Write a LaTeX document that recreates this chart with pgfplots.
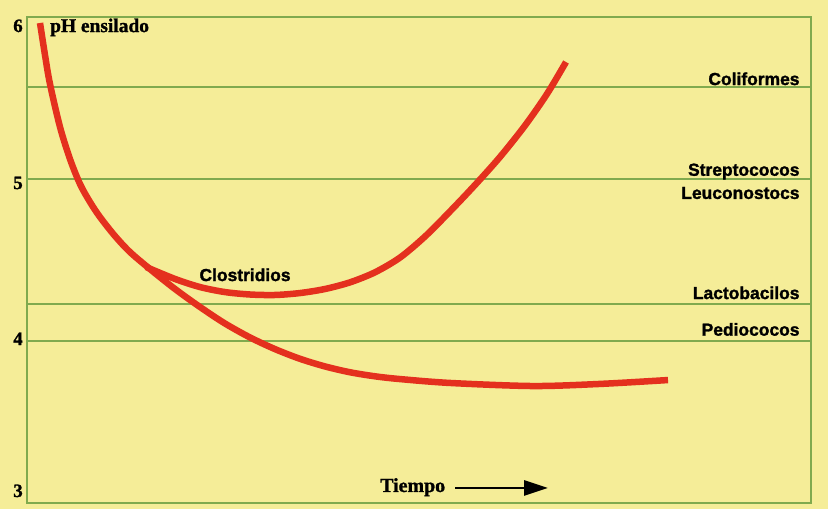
\documentclass[border=0pt]{standalone}
\usepackage{pgfplots}
\pgfplotsset{compat=1.18}
\usepackage{fontspec}
\setmainfont{Liberation Serif}[BoldFeatures={FakeBold=1.2}]
\newfontfamily\labfont{Liberation Sans}[BoldFeatures={FakeBold=1.5}]
\usetikzlibrary{arrows.meta}
\definecolor{bgy}{RGB}{245,237,152}
\definecolor{gline}{RGB}{128,170,78}
\definecolor{cred}{RGB}{228,48,30}
\begin{document}
\begin{tikzpicture}
\fill[bgy] (0,0) rectangle (828bp,509bp);
\begin{axis}[
  at={(27bp,6bp)}, anchor=south west,
  width=784bp, height=486bp, scale only axis,
  xmin=27, xmax=811, ymin=3, ymax=6,
  axis line style={gline, line width=2bp},
  ticks=none, clip=false,
  axis background/.style={fill=bgy},
]
% horizontal reference lines
\addplot[gline, line width=2bp] coordinates {(27,5.568) (811,5.568)};
\addplot[gline, line width=2bp] coordinates {(27,5.0) (811,5.0)};
\addplot[gline, line width=2bp] coordinates {(27,4.228) (811,4.228)};
\addplot[gline, line width=2bp] coordinates {(27,4.0) (811,4.0)};
% main pH curve
\addplot[cred, line width=6.5bp, smooth, tension=0.5, line cap=butt] coordinates {
(40,5.963) (45,5.765) (50,5.586) (60,5.321) (70,5.123) (80,4.969) (90,4.858)
(100,4.765) (115,4.648) (130,4.549) (150,4.444) (175,4.321) (200,4.210)
(225,4.108) (250,4.022) (275,3.950) (300,3.890) (325,3.843) (350,3.807) (375,3.782) (400,3.765)
(450,3.741) (533,3.722) (600,3.735) (668,3.759)};
% Clostridios curve
\addplot[cred, line width=6.5bp, smooth, tension=0.5, line cap=butt] coordinates {
(146,4.457) (175,4.383) (200,4.333) (225,4.302) (250,4.287) (275,4.284)
(300,4.296) (325,4.321) (350,4.362) (375,4.424) (400,4.515) (425,4.645)
(450,4.800) (475,4.963) (500,5.136) (525,5.330) (547,5.525) (566,5.722)};
% labels
\node[anchor=base east, font=\labfont\fontsize{17.5}{20}\selectfont\bfseries] at (axis cs:803,5.58) {Coliformes};
\node[anchor=base east, font=\labfont\fontsize{17.5}{20}\selectfont\bfseries] at (axis cs:803,5.02) {Streptococos};
\node[anchor=base east, font=\labfont\fontsize{17.5}{20}\selectfont\bfseries] at (axis cs:803,4.877) {Leuconostocs};
\node[anchor=base east, font=\labfont\fontsize{17.5}{20}\selectfont\bfseries] at (axis cs:803,4.259) {Lactobacilos};
\node[anchor=base east, font=\labfont\fontsize{17.5}{20}\selectfont\bfseries] at (axis cs:803,4.033) {Pediococos};
\node[anchor=base west, font=\labfont\fontsize{17.5}{20}\selectfont\bfseries] at (axis cs:196,4.37) {Clostridios};
\node[anchor=base west, inner sep=0pt, font=\fontsize{19.5}{22}\selectfont\bfseries] at (axis cs:50,5.907) {pH ensilado};
\node[anchor=base west, inner sep=0pt, font=\fontsize{20}{22}\selectfont\bfseries] at (axis cs:380,3.068) {Tiempo};
\draw[line width=2.8bp, -{Triangle[length=24bp, width=15bp]}] (axis cs:455,3.093) -- (axis cs:548,3.093);
% y labels
\node[anchor=base, inner sep=0pt, font=\fontsize{19}{21}\selectfont\bfseries] at (axis cs:18,5.907) {6};
\node[anchor=base, inner sep=0pt, font=\fontsize{19}{21}\selectfont\bfseries] at (axis cs:18,4.938) {5};
\node[anchor=base, inner sep=0pt, font=\fontsize{19}{21}\selectfont\bfseries] at (axis cs:18,3.975) {4};
\node[anchor=base, inner sep=0pt, font=\fontsize{19}{21}\selectfont\bfseries] at (axis cs:18,3.037) {3};
\end{axis}
\end{tikzpicture}
\end{document}
